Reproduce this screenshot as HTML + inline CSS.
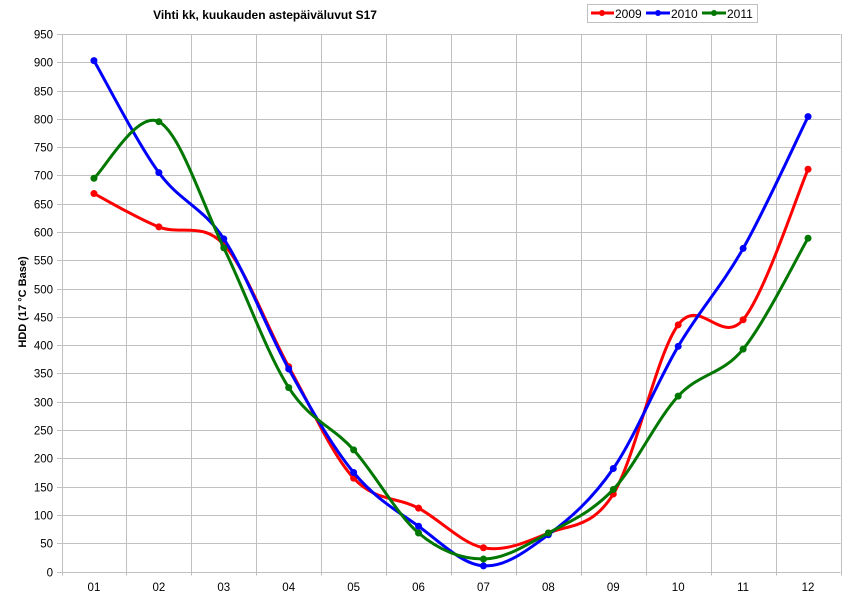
<!DOCTYPE html>
<html><head><meta charset="utf-8"><style>
body{margin:0;background:#fff}
svg{display:block;font-family:"Liberation Sans",sans-serif}
</style></head><body>
<svg id="s" width="860" height="608" viewBox="0 0 860 608">
<rect width="860" height="608" fill="#fff"/>
<text x="265" y="19" font-size="12" font-weight="bold" text-anchor="middle">Vihti kk, kuukauden astepäiväluvut S17</text>
<g id="grid" stroke="#c0c0c0" stroke-width="1"></g>
<g id="labels" font-size="11.5" fill="#000"></g>
<text transform="translate(26,302) rotate(-90)" font-size="11" font-weight="bold" text-anchor="middle">HDD (17 °C Base)</text>
<g id="series"></g>
<rect x="587.5" y="4.5" width="170" height="18" fill="#fff" stroke="#c0c0c0"/>
<g font-size="12">
<line x1="591" y1="13" x2="614" y2="13" stroke="#f00" stroke-width="3"/><circle cx="602" cy="13" r="3" fill="#f00"/><text x="615" y="18">2009</text>
<line x1="646" y1="13" x2="670" y2="13" stroke="#00f" stroke-width="3"/><circle cx="658" cy="13" r="3" fill="#00f"/><text x="671" y="18">2010</text>
<line x1="702" y1="13" x2="726" y2="13" stroke="#070" stroke-width="3"/><circle cx="714" cy="13" r="3" fill="#070"/><text x="727" y="18">2011</text>
</g>
</svg>
<script>
const L=61.5,R=840.5,T=34,B=571.5,NS="http://www.w3.org/2000/svg";
const yv=v=>B-v*(B-T)/950, dx=(R-L)/12, xc=i=>L+dx*(i+0.5);
function el(p,t,a,txt){const e=document.createElementNS(NS,t);for(const k in a)e.setAttribute(k,a[k]);if(txt!=null)e.textContent=txt;p.appendChild(e);return e;}
const g=document.getElementById('grid'),lb=document.getElementById('labels'),sr=document.getElementById('series');
for(let v=0;v<=950;v+=50){const y=Math.round(yv(v))+0.5;el(g,'line',{x1:57,x2:R,y1:y,y2:y});el(lb,'text',{x:53,y:y+4,'text-anchor':'end'},v);}
for(let i=0;i<=12;i++){const x=Math.round(L+dx*i)+0.5;el(g,'line',{x1:x,x2:x,y1:T,y2:B+4});}
for(let i=0;i<12;i++)el(lb,'text',{x:xc(i),y:591,'text-anchor':'middle'},String(i+1).padStart(2,'0'));
const D=[["#f00",[668,609,578,362,165,112,42,68,137,436,445,711]],
["#00f",[903,705,588,358,175,80,10,65,182,398,571,804]],
["#070",[695,795,572,325,215,68,22,68,145,310,393,589]]];
for(const [c,d] of D){
 const p=d.map((v,i)=>[xc(i),yv(v)]);
 let s=`M${p[0][0]},${p[0][1]}`;
 for(let i=0;i<p.length-1;i++){
  const p0=p[Math.max(i-1,0)],p1=p[i],p2=p[i+1],p3=p[Math.min(i+2,p.length-1)];
  const c1=[p1[0]+(p2[0]-p0[0])/6,p1[1]+(p2[1]-p0[1])/6],c2=[p2[0]-(p3[0]-p1[0])/6,p2[1]-(p3[1]-p1[1])/6];
  s+=` C${c1[0]},${c1[1]} ${c2[0]},${c2[1]} ${p2[0]},${p2[1]}`;
 }
 el(sr,'path',{d:s,fill:'none',stroke:c,'stroke-width':3});
 for(const q of p)el(sr,'circle',{cx:q[0],cy:q[1],r:3.5,fill:c});
}
</script>
</body></html>
